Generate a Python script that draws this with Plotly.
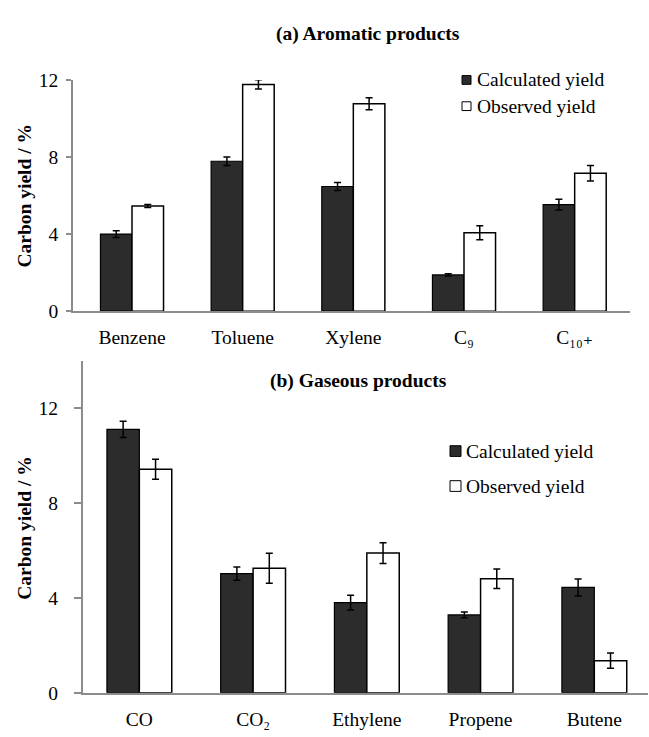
import plotly.graph_objects as go

# ---- data -------------------------------------------------------------
aro_cats = ["Benzene", "Toluene", "Xylene", "C₉", "C₁₀₊"]
aro_calc = [4.00, 7.78, 6.47, 1.88, 5.53]
aro_calc_err = [0.18, 0.22, 0.21, 0.06, 0.28]
aro_obs = [5.46, 11.77, 10.76, 4.07, 7.16]
aro_obs_err = [0.08, 0.24, 0.31, 0.36, 0.40]

gas_cats = ["CO", "CO₂", "Ethylene", "Propene", "Butene"]
gas_calc = [11.11, 5.02, 3.80, 3.28, 4.44]
gas_calc_err = [0.34, 0.28, 0.31, 0.12, 0.36]
gas_obs = [9.43, 5.25, 5.89, 4.81, 1.35]
gas_obs_err = [0.42, 0.63, 0.44, 0.41, 0.32]

series_names = ["Calculated yield", "Observed yield"]
y_ticks = [0, 4, 8, 12]

# ---- style -------------------------------------------------------------
W, H = 649, 737
FONT = "Liberation Serif, Times New Roman, DejaVu Serif, serif"
DARK = "#2c2c2c"
AXIS = "#8c8c8c"
FS = 19.5


def px_x(v):
    return v / W


def px_y(v):
    return 1 - v / H


fig = go.Figure()


def add_pair(cats, calc, calc_err, obs, obs_err, xa, ya):
    err = dict(type="data", color="black", thickness=1.5, width=3.5)
    fig.add_trace(go.Bar(
        x=list(range(len(cats))), y=calc, name=series_names[0],
        marker=dict(color=DARK, line=dict(color="black", width=1.2)),
        error_y=dict(array=calc_err, **err), xaxis=xa, yaxis=ya,
        showlegend=False))
    fig.add_trace(go.Bar(
        x=list(range(len(cats))), y=obs, name=series_names[1],
        marker=dict(color="white", line=dict(color="black", width=1.5)),
        error_y=dict(array=obs_err, **err), xaxis=xa, yaxis=ya,
        showlegend=False))


add_pair(aro_cats, aro_calc, aro_calc_err, aro_obs, aro_obs_err, "x", "y")
add_pair(gas_cats, gas_calc, gas_calc_err, gas_obs, gas_obs_err, "x2", "y2")

tickfont = dict(family=FONT, size=FS, color="black")

xcommon = dict(showline=True, linecolor=AXIS, linewidth=1.5, showgrid=False,
               zeroline=False, ticks="", tickfont=tickfont, tickmode="array",
               tickvals=list(range(5)), ticklabelstandoff=8, fixedrange=True)
ycommon = dict(showline=True, linecolor=AXIS, linewidth=1.5, showgrid=False,
               zeroline=False, ticks="outside", tickcolor=AXIS, tickwidth=1.5,
               tickfont=tickfont, tickvals=y_ticks, fixedrange=True)

fig.update_layout(
    width=W, height=H,
    margin=dict(l=0, r=0, t=0, b=0),
    paper_bgcolor="white", plot_bgcolor="white",
    barmode="group", bargap=0.43, bargroupgap=0,
    xaxis=dict(domain=[px_x(73), px_x(630)], range=[-0.533, 4.5],
               ticktext=aro_cats, anchor="y", **xcommon),
    yaxis=dict(domain=[px_y(310), px_y(72)], range=[0, 12], anchor="x",
               ticklen=5, ticklabelstandoff=4, **ycommon),
    xaxis2=dict(domain=[px_x(82.7), px_x(648)], range=[-0.498, 4.472],
                ticktext=gas_cats, anchor="y2", **xcommon),
    yaxis2=dict(domain=[px_y(702.7), px_y(361.2)], range=[0, 14], anchor="x2",
                ticklen=7, ticklabelstandoff=12, **ycommon),
    showlegend=False,
)

# ---- titles -------------------------------------------------------------
def text(x, y, s, bold=False, angle=0, xanchor="center"):
    fig.add_annotation(
        x=px_x(x), y=px_y(y), xref="paper", yref="paper",
        text=f"<b>{s}</b>" if bold else s, showarrow=False,
        textangle=angle, xanchor=xanchor, yanchor="middle",
        font=dict(family=FONT, size=FS, color="black"))


text(368, 25, "(a) Aromatic products", bold=True)
text(358, 382, "(b) Gaseous products", bold=True)
text(25, 191, "Carbon yield / %", bold=True, angle=-90)
text(25, 533, "Carbon yield / %", bold=True, angle=-90)

# ---- legends -------------------------------------------------------------
def legend(x_sq, size, rows_y, x_text):
    fills = [DARK, "white"]
    for fill, ry, name in zip(fills, rows_y, series_names):
        fig.add_shape(type="rect", xref="paper", yref="paper",
                      x0=px_x(x_sq), x1=px_x(x_sq + size),
                      y0=px_y(ry + size / 2), y1=px_y(ry - size / 2),
                      fillcolor=fill, line=dict(color="black", width=1))
        text(x_text, ry, name, xanchor="left")


legend(462, 9, [72, 99], 475)
legend(450, 11, [454, 490], 464)

fig.write_html("out.html", post_script="document.body.style.margin='0';")
